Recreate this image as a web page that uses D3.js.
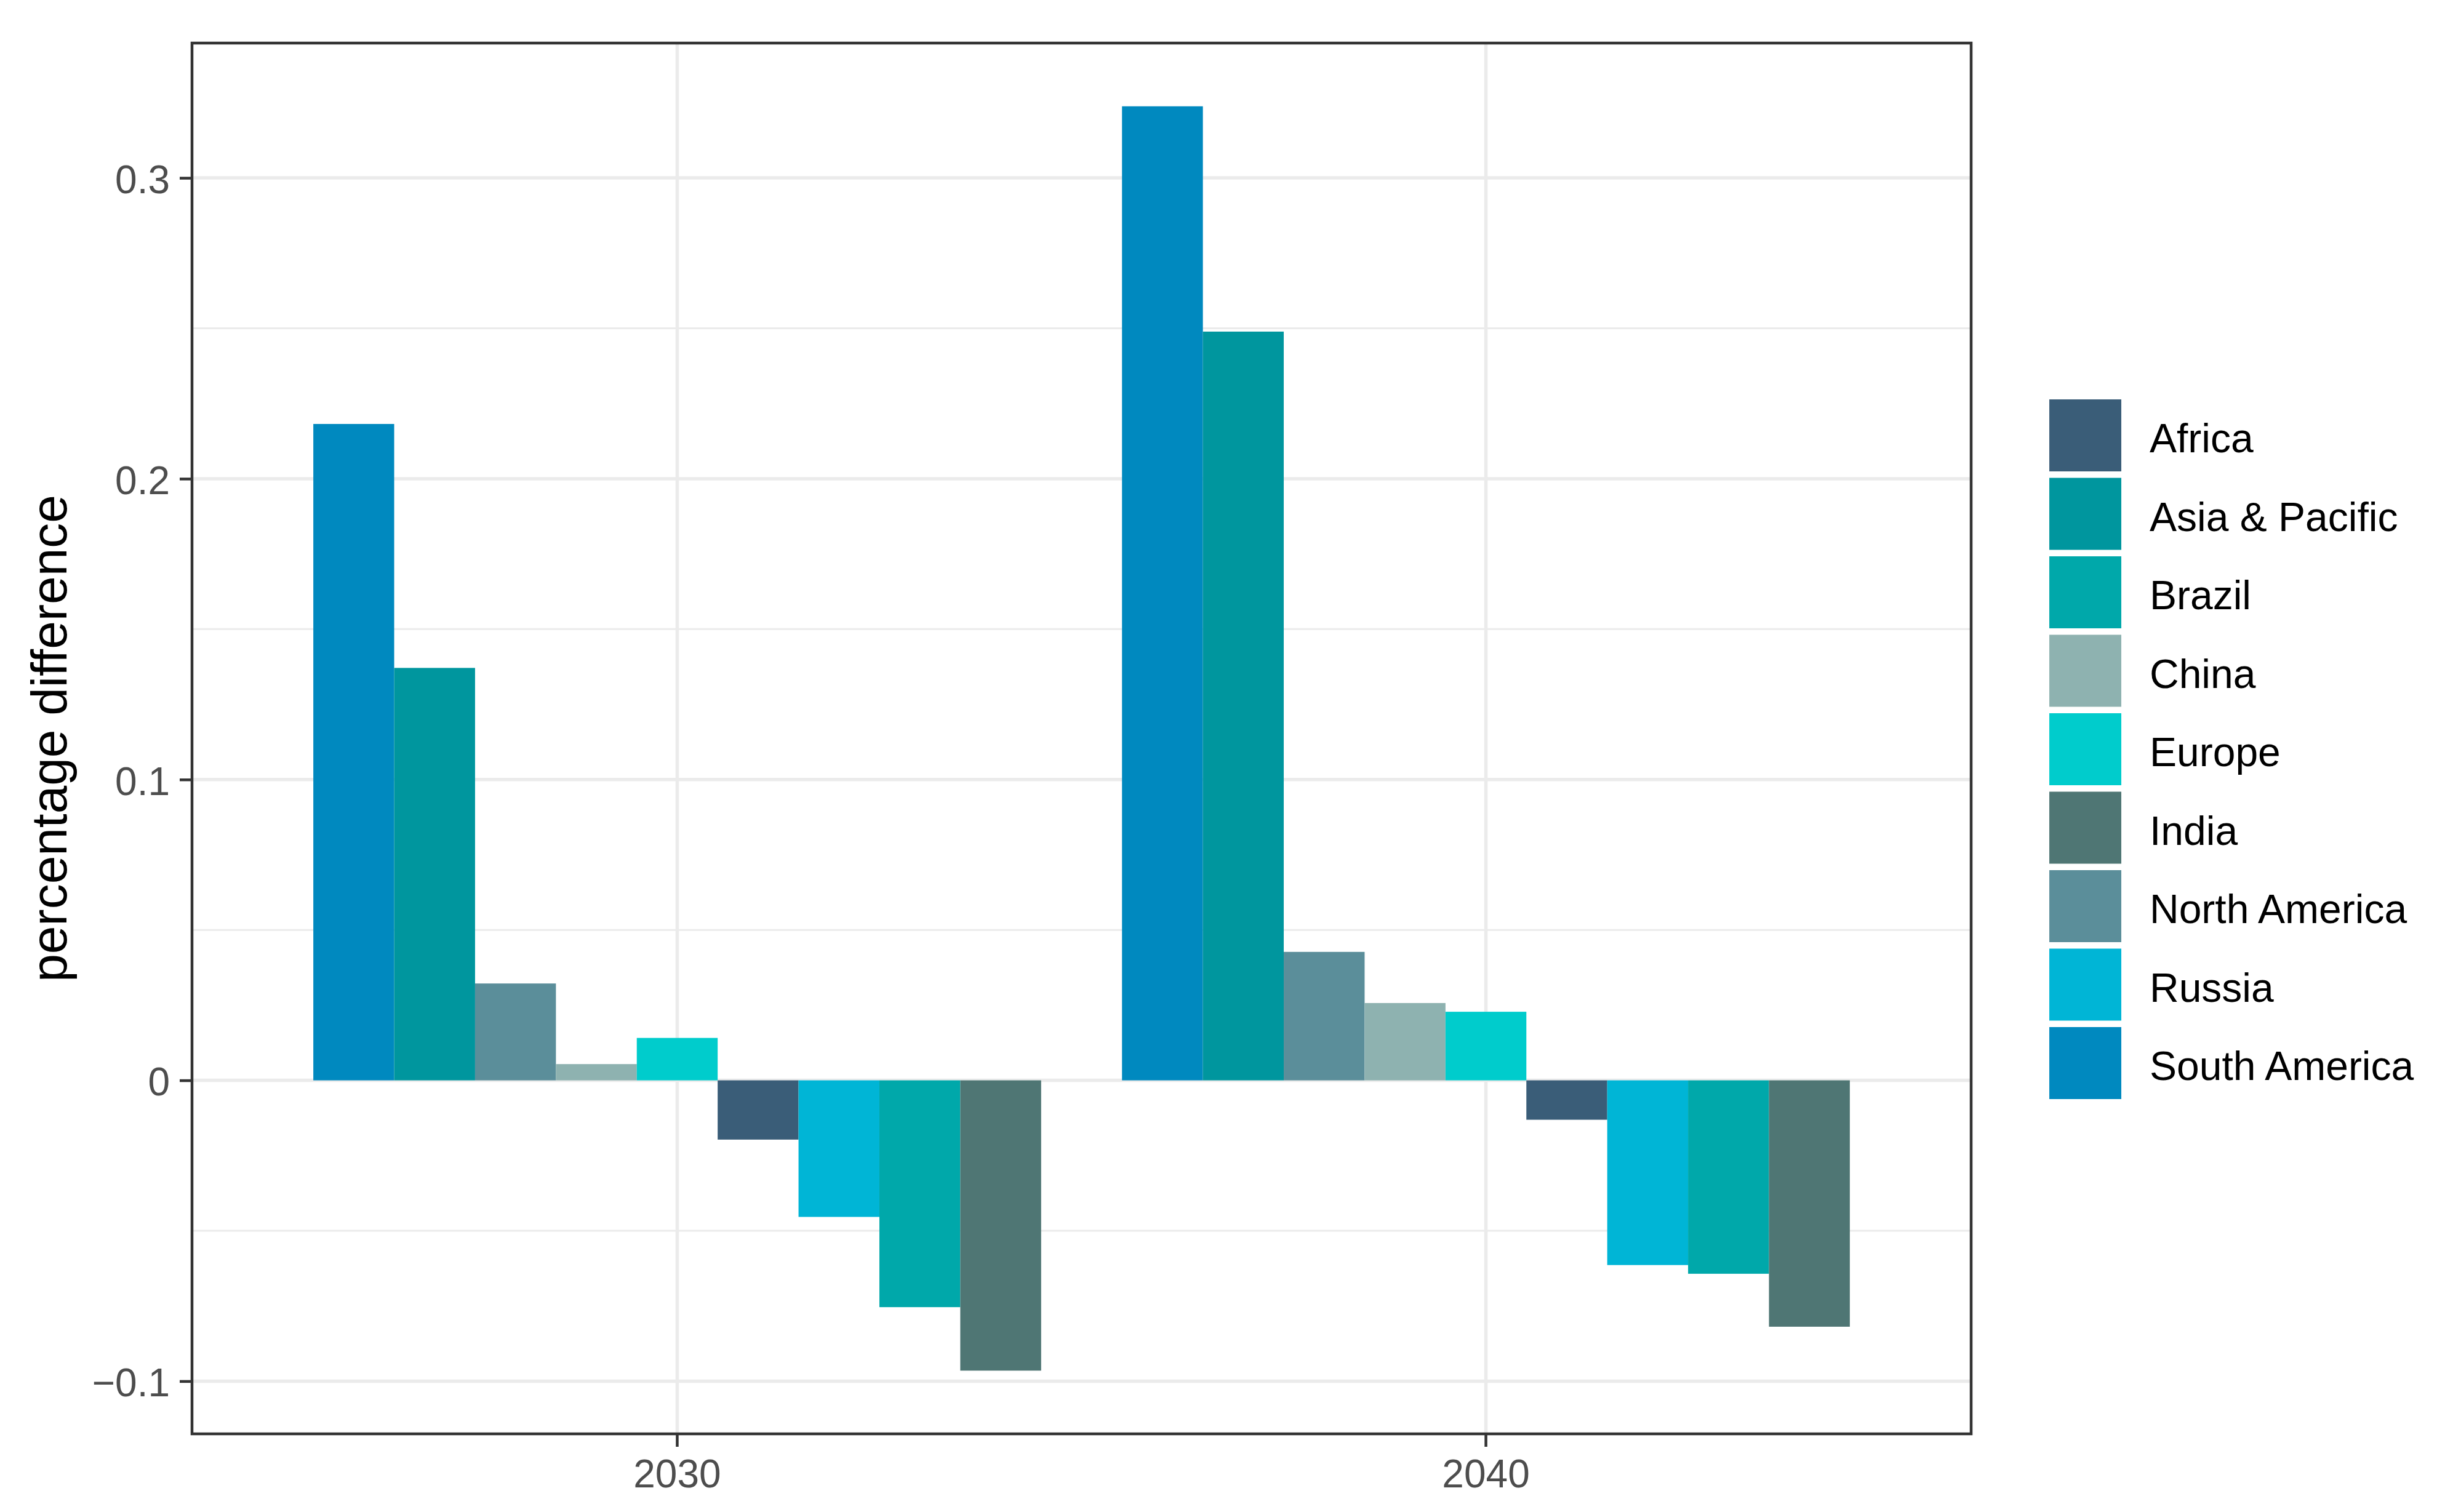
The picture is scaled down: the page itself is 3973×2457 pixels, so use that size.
<!DOCTYPE html>
<html>
<head>
<meta charset="utf-8">
<script src="https://cdn.jsdelivr.net/npm/d3@7"></script>
<style>
  html, body { margin: 0; padding: 0; background: #fff; }
  text { font-family: "Liberation Sans", Arial, sans-serif; }
</style>
</head>
<body>
<div id="chart"></div>
<script>
// data
const years = ["2030", "2040"];
const barOrder = ["South America", "Asia & Pacific", "North America", "China", "Europe",
                  "Africa", "Russia", "Brazil", "India"];
const legendOrder = ["Africa", "Asia & Pacific", "Brazil", "China", "Europe",
                     "India", "North America", "Russia", "South America"];
const values2030 = [0.2182, 0.1371, 0.0322, 0.0054, 0.0141, -0.0197, -0.0454, -0.0754, -0.0965];
const values2040 = [0.3238, 0.2489, 0.0427, 0.0257, 0.0228, -0.0131, -0.0614, -0.0643, -0.0819];
const regionColors = ["#3A5D78", "#00969E", "#00A8AA", "#8EB2B0", "#00CCCC",
                      "#4F7674", "#5B8E9A", "#00B5D6", "#0089BF"];
const yTicks = [-0.1, 0, 0.1, 0.2, 0.3];
const yMinor = [-0.05, 0.05, 0.15, 0.25];

const width = 3973, height = 2457;
const margin = { top: 70, right: 770, bottom: 127, left: 312 };

const rows = [];
years.forEach((yr, i) => {
  const vals = i === 0 ? values2030 : values2040;
  barOrder.forEach((r, j) => rows.push({ year: yr, region: r, value: vals[j] }));
});

const svg = d3.select("#chart").append("svg")
  .attr("width", width)
  .attr("height", height);

const x = d3.scaleBand()
  .domain(years)
  .range([margin.left, width - margin.right])
  .paddingInner(0.1)
  .paddingOuter(0.15);

const xInner = d3.scaleBand()
  .domain(barOrder)
  .range([0, x.bandwidth()]);

// ggplot style 5% expansion of the data range
const ext = d3.extent(rows, (d) => d.value);
const pad = (ext[1] - ext[0]) * 0.05;
const y = d3.scaleLinear()
  .domain([ext[0] - pad, ext[1] + pad])
  .range([height - margin.bottom, margin.top]);

const color = d3.scaleOrdinal().domain(legendOrder).range(regionColors);

const x0 = margin.left, x1 = width - margin.right;
const y0 = margin.top, y1 = height - margin.bottom;

// grid
const grid = svg.append("g");
grid.selectAll(".minor")
  .data(yMinor)
  .join("line")
  .attr("x1", x0).attr("x2", x1)
  .attr("y1", (d) => y(d)).attr("y2", (d) => y(d))
  .attr("stroke", "#EBEBEB").attr("stroke-width", 3);
grid.selectAll(".major")
  .data(yTicks)
  .join("line")
  .attr("x1", x0).attr("x2", x1)
  .attr("y1", (d) => y(d)).attr("y2", (d) => y(d))
  .attr("stroke", "#EBEBEB").attr("stroke-width", 5.5);
grid.selectAll(".vmajor")
  .data(years)
  .join("line")
  .attr("x1", (d) => x(d) + x.bandwidth() / 2).attr("x2", (d) => x(d) + x.bandwidth() / 2)
  .attr("y1", y0).attr("y2", y1)
  .attr("stroke", "#EBEBEB").attr("stroke-width", 5.5);

// bars
svg.append("g")
  .selectAll("rect")
  .data(rows)
  .join("rect")
  .attr("x", (d) => x(d.year) + xInner(d.region))
  .attr("width", xInner.bandwidth())
  .attr("y", (d) => y(Math.max(0, d.value)))
  .attr("height", (d) => Math.abs(y(d.value) - y(0)))
  .attr("fill", (d) => color(d.region));

// panel border
svg.append("rect")
  .attr("x", x0).attr("y", y0)
  .attr("width", x1 - x0).attr("height", y1 - y0)
  .attr("fill", "none")
  .attr("stroke", "#333333")
  .attr("stroke-width", 4.5);

// axes
const fmt = (d) => (d === 0 ? "0" : d3.format(".1f")(d).replace("-", "\u2212"));

const yAxis = svg.append("g")
  .attr("transform", `translate(${x0},0)`)
  .call(d3.axisLeft(y).tickValues(yTicks).tickFormat(fmt).tickSize(20).tickPadding(16));
yAxis.select(".domain").remove();
yAxis.selectAll(".tick line").attr("stroke", "#333333").attr("stroke-width", 4.5);
yAxis.selectAll(".tick text")
  .attr("fill", "#4D4D4D")
  .attr("font-size", 64)
  .attr("dy", "0.38em");

const xAxis = svg.append("g")
  .attr("transform", `translate(0,${y1})`)
  .call(d3.axisBottom(x).tickSize(21).tickPadding(20));
xAxis.select(".domain").remove();
xAxis.selectAll(".tick line").attr("stroke", "#333333").attr("stroke-width", 4.5);
xAxis.selectAll(".tick text")
  .attr("fill", "#4D4D4D")
  .attr("font-size", 64)
  .attr("dy", "0.72em");

// y title
svg.append("text")
  .attr("transform", `translate(108,${(y0 + y1) / 2}) rotate(-90)`)
  .attr("text-anchor", "middle")
  .attr("font-size", 82)
  .attr("fill", "#000")
  .text("percentage difference");

// legend
const keySize = 117, keyStep = 127.5;
const legend = svg.append("g")
  .attr("transform", "translate(3330,649)");
const item = legend.selectAll("g")
  .data(legendOrder)
  .join("g")
  .attr("transform", (d, i) => `translate(0,${i * keyStep})`);
item.append("rect")
  .attr("width", keySize)
  .attr("height", keySize)
  .attr("fill", (d) => color(d));
item.append("text")
  .attr("x", 163)
  .attr("y", keySize / 2)
  .attr("dy", "0.42em")
  .attr("font-size", 66)
  .attr("fill", "#000")
  .text((d) => d);
</script>
</body>
</html>
